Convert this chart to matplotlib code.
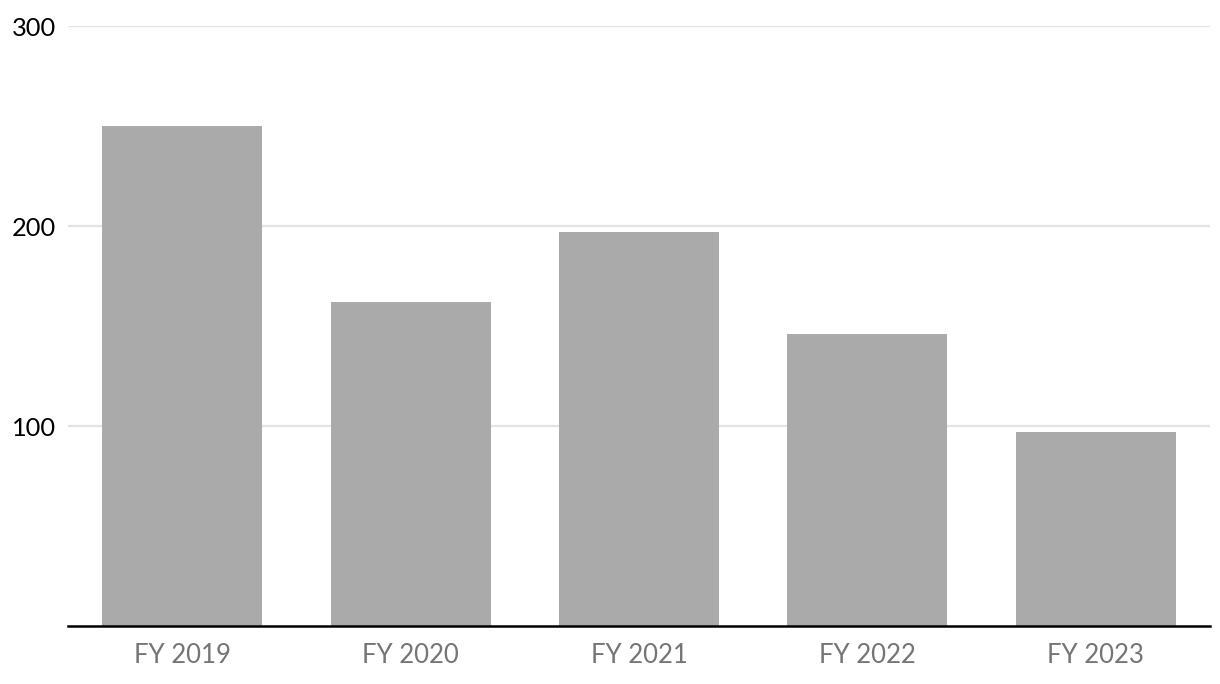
import matplotlib
matplotlib.use("Agg")
import matplotlib.pyplot as plt

categories = ["FY 2019", "FY 2020", "FY 2021", "FY 2022", "FY 2023"]
values = [250, 162, 197, 146, 97]
yticks = [100, 200, 300]

plt.rcParams['font.family'] = ['Lato', 'DejaVu Sans']

fig = plt.figure(figsize=(12.2, 6.84), dpi=100)
ax = fig.add_axes([68/1220, 1-626/684, (1210-68)/1220, 600/684])

x = list(range(len(categories)))
ax.bar(x, values, width=0.7, color="#aaaaaa", zorder=2)
ax.set_xlim(-0.5, len(categories)-0.5)
ax.set_ylim(0, 300)
ax.set_yticks(yticks)
ax.set_yticklabels([str(v) for v in yticks])
ax.set_xticks(x)
ax.set_xticklabels(categories)
ax.grid(axis='y', color="#e3e3e3", linewidth=1.6, zorder=0)
for s in ["top", "right", "left"]:
    ax.spines[s].set_visible(False)
ax.spines["bottom"].set_linewidth(1.8)
ax.spines["bottom"].set_color("black")
ax.spines["bottom"].set_zorder(3)
ax.tick_params(axis='y', length=0, pad=40.3, labelsize=18.3, labelcolor="black")
for lab in ax.get_yticklabels():
    lab.set_horizontalalignment('left')
ax.tick_params(axis='x', length=0, pad=12.5, labelsize=18.5, labelcolor="#757575")

fig.savefig("out.png", dpi=100)
